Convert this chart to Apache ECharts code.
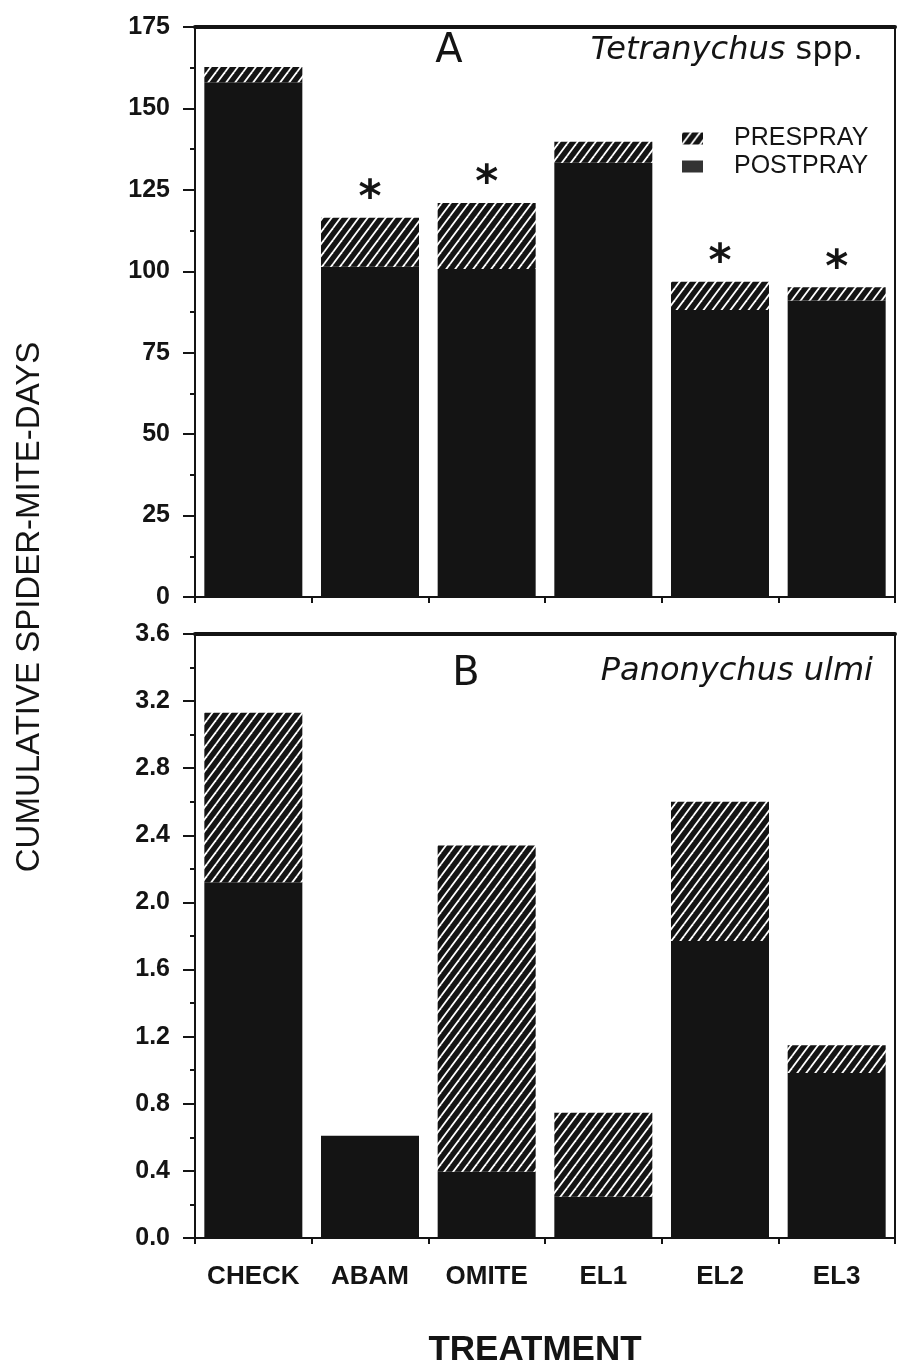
<!DOCTYPE html>
<html>
<head>
<meta charset="utf-8">
<script src="https://cdn.jsdelivr.net/npm/echarts@6/dist/echarts.min.js"></script>
<style>
html,body{margin:0;padding:0;background:#fff;}
#chart{width:898px;height:1369px;}
</style>
</head>
<body>
<div id="chart"></div>
<script>
// ---- data ----
const categories = ['CHECK', 'ABAM', 'OMITE', 'EL1', 'EL2', 'EL3'];
// Panel A: Tetranychus spp.
const aPostspray = [158.0, 101.4, 100.7, 133.3, 88.1, 91.0];
const aPrespray  = [4.7, 15.0, 20.3, 6.5, 8.7, 4.1];
const aSignif    = ['', '*', '*', '', '*', '*'];
// Panel B: Panonychus ulmi
const bPostspray = [2.12, 0.61, 0.395, 0.246, 1.77, 0.984];
const bPrespray  = [1.01, 0.0, 1.945, 0.50, 0.83, 0.165];
// axis ticks
const aAxis = {min: 0, max: 175, interval: 25};
const bAxis = {min: 0, max: 3.6, interval: 0.4};

// ---- hatch pattern ----
function makeHatch() {
  const w = 9, h = 12;
  const c = document.createElement('canvas');
  c.width = w; c.height = h;
  const ctx = c.getContext('2d');
  ctx.fillStyle = '#141414';
  ctx.fillRect(0, 0, w, h);
  ctx.strokeStyle = '#ffffff';
  ctx.lineWidth = 1.8;
  [[0,0],[-w,0],[w,0],[0,-h],[0,h]].forEach(function (o) {
    ctx.beginPath();
    ctx.moveTo(o[0], h + o[1]);
    ctx.lineTo(w + o[0], o[1]);
    ctx.stroke();
  });
  return c;
}
const hatch = {image: makeHatch(), repeat: 'repeat'};
const BLACK = '#141414';
const FONT = 'Liberation Sans, Arial, sans-serif';

const chart = echarts.init(document.getElementById('chart'), null, {renderer: 'canvas'});

function yAxisCfg(gi, ax, fmt) {
  return {
    type: 'value', gridIndex: gi, min: ax.min, max: ax.max, interval: ax.interval,
    axisLine: {show: true, lineStyle: {color: BLACK, width: 2}},
    axisTick: {show: true, inside: false, length: 12, lineStyle: {color: BLACK, width: 2}},
    minorTick: {show: true, splitNumber: 2, length: 5, lineStyle: {color: BLACK, width: 2}},
    splitLine: {show: false},
    axisLabel: {margin: 25, color: BLACK, fontFamily: FONT, fontSize: 25, fontWeight: 'bold', formatter: fmt}
  };
}
function xAxisCfg(gi, showLabels) {
  return {
    type: 'category', gridIndex: gi, data: categories, position: 'bottom',
    axisLine: {show: true, lineStyle: {color: BLACK, width: 2}},
    axisTick: {show: true, inside: false, length: 6, interval: 0, alignWithLabel: false, lineStyle: {color: BLACK, width: 2}},
    axisLabel: {show: showLabels, interval: 0, margin: 26, color: BLACK, fontFamily: FONT, fontSize: 26, fontWeight: 'bold'}
  };
}
function topAxisCfg(gi) {
  return {
    type: 'category', gridIndex: gi, data: categories, position: 'top',
    axisLine: {show: true, lineStyle: {color: BLACK, width: 4}},
    axisTick: {show: false}, axisLabel: {show: false}
  };
}

const option = {
  animation: false,
  backgroundColor: '#ffffff',
  grid: [
    {left: 195, right: 3, top: 27, height: 570, show: true, borderColor: BLACK, borderWidth: 2, containLabel: false},
    {left: 195, right: 3, top: 634, height: 604, show: true, borderColor: BLACK, borderWidth: 2, containLabel: false}
  ],
  xAxis: [xAxisCfg(0, false), xAxisCfg(1, true), topAxisCfg(0), topAxisCfg(1)],
  yAxis: [
    yAxisCfg(0, aAxis, function (v) { return String(v); }),
    yAxisCfg(1, bAxis, function (v) { return v.toFixed(1); })
  ],
  legend: {
    orient: 'vertical', left: 677, top: 121, itemWidth: 21, itemHeight: 12, itemGap: 3,
    icon: 'rect', selectedMode: false,
    textStyle: {fontFamily: FONT, fontSize: 25, color: BLACK, padding: [0, 0, 0, 26]},
    data: [
      {name: 'PRESPRAY'},
      {name: 'POSTPRAY', itemStyle: {color: '#333333'}}
    ]
  },
  series: [
    {name: 'POSTPRAY', type: 'bar', xAxisIndex: 0, yAxisIndex: 0, stack: 'a', data: aPostspray,
     barWidth: '84%', itemStyle: {color: BLACK}},
    {name: 'PRESPRAY', type: 'bar', xAxisIndex: 0, yAxisIndex: 0, stack: 'a', data: aPrespray,
     barWidth: '84%', itemStyle: {color: hatch},
     label: {show: true, position: 'top', distance: -4, color: BLACK, fontFamily: 'DejaVu Sans', fontSize: 44, fontWeight: 'bold',
             formatter: function (p) { return aSignif[p.dataIndex]; }}},
    {name: 'POSTPRAY', type: 'bar', xAxisIndex: 1, yAxisIndex: 1, stack: 'b', data: bPostspray,
     barWidth: '84%', itemStyle: {color: BLACK}},
    {name: 'PRESPRAY', type: 'bar', xAxisIndex: 1, yAxisIndex: 1, stack: 'b', data: bPrespray,
     barWidth: '84%', itemStyle: {color: hatch}}
  ],
  graphic: [
    {type: 'text', x: 449, y: 52, style: {text: 'A', fontFamily: 'DejaVu Sans', fontSize: 40, fill: BLACK, align: 'center', verticalAlign: 'middle'}},
    {type: 'text', x: 863, y: 51, style: {
      text: '{i|Tetranychus} {n|spp.}', align: 'right', verticalAlign: 'middle',
      rich: {
        i: {fontFamily: 'DejaVu Sans', fontSize: 32, fontStyle: 'italic', fill: BLACK, color: BLACK},
        n: {fontFamily: 'DejaVu Sans', fontSize: 32, fill: BLACK, color: BLACK}
      },
      fontFamily: 'DejaVu Sans', fontSize: 32, fill: BLACK}},
    {type: 'text', x: 466, y: 675, style: {text: 'B', fontFamily: 'DejaVu Sans', fontSize: 40, fill: BLACK, align: 'center', verticalAlign: 'middle'}},
    {type: 'text', x: 873, y: 672, style: {text: 'Panonychus ulmi', fontFamily: 'DejaVu Sans', fontSize: 32, fontStyle: 'italic', fill: BLACK, align: 'right', verticalAlign: 'middle'}},
    {type: 'text', x: 30, y: 607, rotation: Math.PI / 2, style: {text: 'CUMULATIVE SPIDER-MITE-DAYS', fontFamily: FONT, fontSize: 33, fill: BLACK, align: 'center', verticalAlign: 'middle'}},
    {type: 'text', x: 535, y: 1350, style: {text: 'TREATMENT', fontFamily: FONT, fontSize: 35, fontWeight: 'bold', fill: BLACK, align: 'center', verticalAlign: 'middle'}}
  ]
};
chart.setOption(option);
</script>
</body>
</html>
